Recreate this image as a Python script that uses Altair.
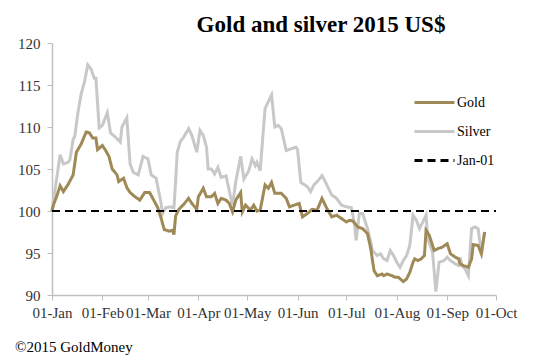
import altair as alt
import pandas as pd

gold_dates = ["2015-01-01","2015-01-02","2015-01-04","2015-01-06","2015-01-08","2015-01-11","2015-01-14","2015-01-16",
"2015-01-19","2015-01-22","2015-01-24","2015-01-26","2015-01-28","2015-01-29","2015-02-01","2015-02-03","2015-02-05",
"2015-02-07","2015-02-10","2015-02-11","2015-02-14","2015-02-16","2015-02-18","2015-02-21","2015-02-24","2015-02-27",
"2015-03-02","2015-03-04","2015-03-07","2015-03-09","2015-03-11","2015-03-14","2015-03-16","2015-03-17","2015-03-18",
"2015-03-20","2015-03-23","2015-03-26","2015-03-28","2015-03-31","2015-04-01","2015-04-04","2015-04-06","2015-04-09",
"2015-04-11","2015-04-13","2015-04-15","2015-04-18","2015-04-20","2015-04-22","2015-04-24","2015-04-27","2015-04-28",
"2015-04-30","2015-05-03","2015-05-05","2015-05-07","2015-05-09","2015-05-12","2015-05-14","2015-05-16","2015-05-18",
"2015-05-22","2015-05-25","2015-05-27","2015-05-30","2015-06-02","2015-06-04","2015-06-07","2015-06-10","2015-06-13",
"2015-06-16","2015-06-19","2015-06-22","2015-06-25","2015-06-28","2015-07-01","2015-07-03","2015-07-05","2015-07-08",
"2015-07-11","2015-07-14","2015-07-16","2015-07-18","2015-07-20","2015-07-23","2015-07-24","2015-07-26","2015-07-29",
"2015-07-31","2015-08-02","2015-08-05","2015-08-07","2015-08-09","2015-08-11","2015-08-12","2015-08-14","2015-08-16",
"2015-08-18","2015-08-19","2015-08-21","2015-08-24","2015-08-26","2015-08-29","2015-09-01","2015-09-03","2015-09-06",
"2015-09-08","2015-09-09","2015-09-11","2015-09-14","2015-09-16","2015-09-17","2015-09-20","2015-09-22","2015-09-24"]
gold_values = [100.0,100.8,101.8,103.0,102.3,103.2,104.3,107.0,
108.0,109.4,109.3,108.7,108.7,107.3,107.8,107.2,106.5,
105.0,104.3,103.5,103.9,102.8,102.2,101.7,101.3,102.2,
102.2,101.5,100.4,99.2,97.8,97.6,97.7,97.2,99.4,
100.2,100.8,101.5,100.9,100.2,101.7,102.7,101.7,101.7,
102.1,100.9,101.5,101.3,100.9,99.9,101.3,102.2,99.9,
100.7,100.1,100.7,100.0,100.1,103.1,102.7,103.4,102.1,
102.1,101.5,100.5,100.7,100.9,99.3,99.7,100.2,100.1,
101.5,100.3,99.3,99.5,99.1,98.7,98.9,98.8,98.1,
97.9,97.3,95.5,92.9,92.3,92.5,92.3,92.5,92.3,
92.1,92.1,91.6,91.9,92.7,93.9,94.3,94.1,94.3,
94.7,97.7,97.1,95.3,95.5,95.7,96.1,94.9,94.5,
94.3,93.7,93.5,93.3,94.3,96.0,95.9,94.9,97.5]

silver_dates = ["2015-01-01","2015-01-03","2015-01-06","2015-01-08","2015-01-11","2015-01-12","2015-01-14","2015-01-15",
"2015-01-17","2015-01-19","2015-01-21","2015-01-23","2015-01-25","2015-01-27","2015-01-28","2015-01-30","2015-02-01",
"2015-02-04","2015-02-06","2015-02-09","2015-02-12","2015-02-13","2015-02-16","2015-02-18","2015-02-20","2015-02-23",
"2015-02-26","2015-03-01","2015-03-03","2015-03-06","2015-03-09","2015-03-10","2015-03-12","2015-03-15","2015-03-17",
"2015-03-18","2015-03-19","2015-03-21","2015-03-23","2015-03-26","2015-03-28","2015-03-31","2015-04-02","2015-04-04",
"2015-04-06","2015-04-07","2015-04-09","2015-04-11","2015-04-13","2015-04-15","2015-04-18","2015-04-19","2015-04-21",
"2015-04-22","2015-04-24","2015-04-27","2015-04-29","2015-05-02","2015-05-04","2015-05-06","2015-05-07","2015-05-09",
"2015-05-12","2015-05-14","2015-05-16","2015-05-18","2015-05-20","2015-05-22","2015-05-25","2015-05-28","2015-05-31",
"2015-06-01","2015-06-03","2015-06-07","2015-06-09","2015-06-11","2015-06-14","2015-06-16","2015-06-18","2015-06-20",
"2015-06-22","2015-06-25","2015-06-28","2015-07-01","2015-07-04","2015-07-06","2015-07-07","2015-07-09","2015-07-11",
"2015-07-14","2015-07-16","2015-07-17","2015-07-20","2015-07-22","2015-07-24","2015-07-26","2015-07-28","2015-07-30",
"2015-08-01","2015-08-03","2015-08-05","2015-08-07","2015-08-09","2015-08-11","2015-08-13","2015-08-15","2015-08-17",
"2015-08-19","2015-08-20","2015-08-23","2015-08-25","2015-08-27","2015-08-30","2015-09-01","2015-09-03","2015-09-06",
"2015-09-08","2015-09-09","2015-09-10","2015-09-12","2015-09-14","2015-09-16","2015-09-18","2015-09-20","2015-09-22",
"2015-09-24"]
silver_values = [100.0,102.7,106.7,105.6,105.8,106.1,108.5,108.9,
111.8,114.0,115.4,117.4,116.9,115.8,115.8,109.9,110.2,
111.7,109.3,108.8,108.2,110.0,111.1,105.6,104.6,104.3,
106.5,106.2,104.3,103.9,101.0,99.7,100.4,100.5,100.4,
103.5,107.0,108.3,108.8,109.8,109.0,107.0,109.6,109.0,
107.6,105.0,105.0,104.4,105.2,104.0,104.2,103.3,101.5,
100.7,103.5,106.5,103.8,104.8,106.2,105.4,105.8,104.8,
112.2,113.0,113.8,110.0,110.2,109.8,107.2,107.4,107.6,
107.3,103.4,102.9,102.3,103.1,103.7,104.2,103.5,102.7,
101.9,101.5,100.7,100.5,100.4,98.5,96.5,99.7,99.7,
97.9,96.3,95.3,94.7,94.9,94.3,94.1,95.3,94.7,
93.9,93.3,94.1,94.7,95.9,99.5,98.9,97.9,98.7,
99.5,96.7,95.1,90.4,93.9,94.1,94.5,94.1,93.7,
93.5,94.5,93.5,93.1,92.3,97.9,98.1,97.9,94.9,
97.5]

base_dates = ["2015-01-01", "2015-10-01"]
base_values = [100.0, 100.0]

series_names = ["Gold", "Silver", "Jan-01"]
series_colors = ["#9f8a57", "#c8c8c8", "#000000"]

tick_dates = ["2015-01-01","2015-02-01","2015-03-01","2015-04-01","2015-05-01","2015-06-01",
              "2015-07-01","2015-08-01","2015-09-01","2015-10-01"]
y_ticks = [90, 95, 100, 105, 110, 115, 120]

title_text = "Gold and silver 2015 US$"
footer_text = "©2015 GoldMoney"

gold = pd.DataFrame({"date": gold_dates, "value": gold_values, "series": "Gold"})
silver = pd.DataFrame({"date": silver_dates, "value": silver_values, "series": "Silver"})
base = pd.DataFrame({"date": base_dates, "value": base_values, "series": "Jan-01"})

FONT = "Liberation Serif"

def tick_dt(s):
    y, m, d = s.split("-")
    return alt.DateTime(year=int(y), month=int(m), date=int(d), utc=True)

x_enc = alt.X("date:T",
              scale=alt.Scale(type="utc", domain=[tick_dt(tick_dates[0]), tick_dt(tick_dates[-1])], nice=False),
              axis=alt.Axis(values=[tick_dt(t) for t in tick_dates],
                            labelExpr="utcFormat(datum.value, '%d-%b')", title=None))
y_enc = alt.Y("value:Q",
              scale=alt.Scale(domain=[90, 120], nice=False, zero=False),
              axis=alt.Axis(values=y_ticks, title=None))

color_enc = alt.Color("series:N",
                      scale=alt.Scale(domain=series_names, range=series_colors),
                      legend=alt.Legend(title=None, orient="none", legendX=361, legendY=38))
dash_enc = alt.StrokeDash("series:N",
                          scale=alt.Scale(domain=series_names, range=[[1, 0], [1, 0], [8, 5]]),
                          legend=None)

silver_layer = alt.Chart(silver).mark_line(strokeWidth=3).encode(x=x_enc, y=y_enc, color=color_enc, strokeDash=dash_enc)
gold_layer = alt.Chart(gold).mark_line(strokeWidth=3).encode(x=x_enc, y=y_enc, color=color_enc, strokeDash=dash_enc)
base_layer = alt.Chart(base).mark_line(strokeWidth=2).encode(x=x_enc, y=y_enc, color=color_enc, strokeDash=dash_enc)

title_mark = alt.Chart(pd.DataFrame({"t": [title_text]})).mark_text(
    font=FONT, fontSize=23, fontWeight="bold", align="center", baseline="alphabetic", color="#000000"
).encode(text="t:N", x=alt.value(269), y=alt.value(-11))

footer = alt.Chart(pd.DataFrame({"t": [footer_text]})).mark_text(
    font=FONT, fontSize=15, align="left", baseline="alphabetic", color="#000000"
).encode(text="t:N", x=alt.value(-37), y=alt.value(309))

chart = alt.layer(silver_layer, gold_layer, base_layer, title_mark, footer).properties(
    width=444, height=252,
    padding={"left": 44, "top": 35, "right": 33, "bottom": 61},
    autosize=alt.AutoSizeParams(type="none"),
).configure(font=FONT).configure_view(stroke=None).configure_axis(
    grid=False, domainColor="#bfbfbf", tickColor="#bfbfbf", tickSize=5, domainWidth=1.5,
    labelFont=FONT, labelFontSize=15, labelColor="#333333", labelPadding=7,
).configure_axisX(labelFlush=False, labelOverlap=False, labelPadding=5).configure_legend(
    symbolType="stroke", symbolSize=1600, symbolStrokeWidth=3,
    labelFont=FONT, labelFontSize=14, labelColor="#000000", labelOffset=1, rowPadding=-7,
)

chart.save("out.html", embed_options={"renderer": "svg", "actions": False})
